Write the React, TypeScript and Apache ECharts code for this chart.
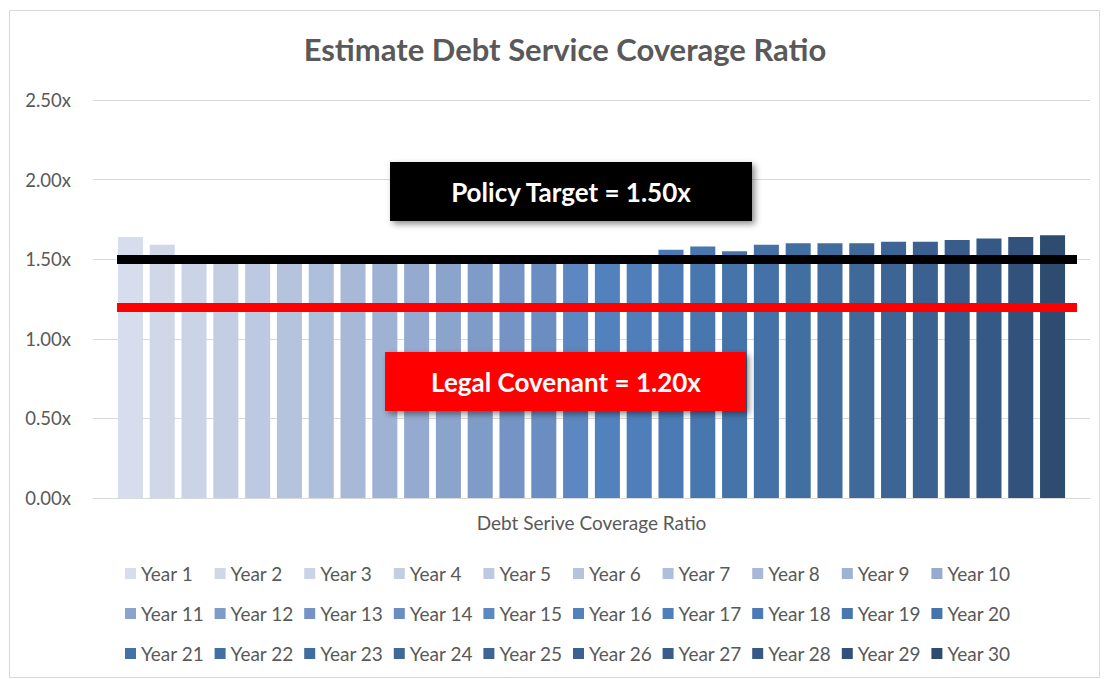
import React, { useEffect, useRef } from "react";
import * as echarts from "echarts";

const years: string[] = Array.from({ length: 30 }, (_, i) => `Year ${i + 1}`);
const category: string[] = ["Debt Serive Coverage Ratio"];
const dscr: number[] = [
  1.64, 1.59, 1.52, 1.52, 1.51, 1.51, 1.5, 1.5, 1.5, 1.5,
  1.51, 1.51, 1.51, 1.52, 1.52, 1.52, 1.52, 1.56, 1.58, 1.55,
  1.59, 1.6, 1.6, 1.6, 1.61, 1.61, 1.62, 1.63, 1.64, 1.65,
];
const yTicks = { min: 0, max: 2.5, interval: 0.5 };
const policyTarget = 1.5;
const legalCovenant = 1.2;

const barColors: string[] = [
  "#d6dded", "#d0d8e8", "#cad4e6", "#c3cee3", "#bcc9e0", "#b5c3dd", "#aebfdb", "#a7b9d7", "#9eb2d3", "#95aad0",
  "#8ba4cc", "#7f9cc8", "#7594c5", "#6a8dc2", "#5c87c0", "#5282be", "#4e7fbb", "#4b7ab5", "#4877af", "#4574aa",
  "#4471a6", "#426fa2", "#406c9e", "#3e6999", "#3c6595", "#3a6190", "#385d8a", "#355884", "#32527c", "#2e4b70",
];

export default function App() {
  const ref = useRef<HTMLDivElement>(null);
  useEffect(() => {
    if (!ref.current) return;
    const chart = echarts.init(ref.current, undefined, { renderer: "svg" });
    const font = "Lato, 'Open Sans', sans-serif";
    const grey = "#595959";
    const series: any[] = years.map((name, i) => ({
      type: "bar",
      name,
      data: [dscr[i]],
      barGap: "27%",
      barCategoryGap: "5%",
      itemStyle: { color: barColors[i] },
      ...(i === 0
        ? {
            markLine: {
              silent: true,
              symbol: "none",
              z: 10,
              label: { show: false },
              data: [
                [
                  { yAxis: policyTarget, x: 117, lineStyle: { color: "#000000", width: 9, type: "solid" } },
                  { yAxis: policyTarget, x: 1077 },
                ],
                [
                  { yAxis: legalCovenant, x: 117, lineStyle: { color: "#ff0000", width: 9, type: "solid" } },
                  { yAxis: legalCovenant, x: 1077 },
                ],
              ],
            },
          }
        : {}),
    }));
    const legends = years.map((name, i) => ({
      data: [name],
      left: 120 + (i % 10) * 89.6,
      top: 559 + Math.floor(i / 10) * 40,
      orient: "horizontal",
      icon: "rect",
      itemWidth: 11,
      itemHeight: 11,
      selectedMode: false,
      textStyle: { color: grey, fontSize: 19, fontFamily: font },
    }));
    chart.setOption({
      animation: false,
      textStyle: { fontFamily: font },
      grid: { left: 93, right: 19, top: 100, bottom: 181, containLabel: false },
      xAxis: {
        type: "category",
        data: category,
        axisLine: { lineStyle: { color: "#d9d9d9", width: 1 } },
        axisTick: { show: false },
        axisLabel: { color: grey, fontSize: 19, fontFamily: font, margin: 15 },
      },
      yAxis: {
        type: "value",
        min: yTicks.min,
        max: yTicks.max,
        interval: yTicks.interval,
        axisLine: { show: false },
        axisTick: { show: false },
        splitLine: { lineStyle: { color: "#d9d9d9", width: 1 } },
        axisLabel: {
          color: grey,
          fontSize: 18.5,
          fontFamily: font,
          margin: 22,
          formatter: (v: number) => v.toFixed(2) + "x",
        },
      },
      legend: legends,
      series,
      graphic: [
        {
          type: "rect",
          shape: { x: 9.5, y: 10.5, width: 1090, height: 667 },
          style: { fill: "none", stroke: "#d9d9d9", lineWidth: 1 },
          silent: true,
          z: -10,
        },
        {
          type: "text",
          x: 565,
          y: 49,
          z: 100,
          style: {
            text: "Estimate Debt Service Coverage Ratio",
            fill: grey,
            font: `bold 31px ${font}`,
            textAlign: "center",
            textVerticalAlign: "middle",
          },
        },
        {
          type: "rect",
          z: 100,
          shape: { x: 390, y: 162, width: 362, height: 59 },
          style: {
            fill: "#000000",
            shadowBlur: 6,
            shadowOffsetX: 3,
            shadowOffsetY: 3,
            shadowColor: "rgba(0,0,0,0.45)",
          },
        },
        {
          type: "text",
          z: 101,
          x: 571,
          y: 191.5,
          style: {
            text: "Policy Target = 1.50x",
            fill: "#ffffff",
            font: `bold 26px ${font}`,
            textAlign: "center",
            textVerticalAlign: "middle",
          },
        },
        {
          type: "rect",
          z: 100,
          shape: { x: 385, y: 352, width: 361, height: 59 },
          style: {
            fill: "#ff0000",
            shadowBlur: 6,
            shadowOffsetX: 3,
            shadowOffsetY: 3,
            shadowColor: "rgba(0,0,0,0.45)",
          },
        },
        {
          type: "text",
          z: 101,
          x: 566,
          y: 381.5,
          style: {
            text: "Legal Covenant = 1.20x",
            fill: "#ffffff",
            font: `bold 26px ${font}`,
            textAlign: "center",
            textVerticalAlign: "middle",
          },
        },
      ],
    });
    return () => chart.dispose();
  }, []);
  return (
    <div
      ref={ref}
      style={{ position: "fixed", left: 0, top: 0, width: 1109, height: 679, background: "#ffffff" }}
    />
  );
}
